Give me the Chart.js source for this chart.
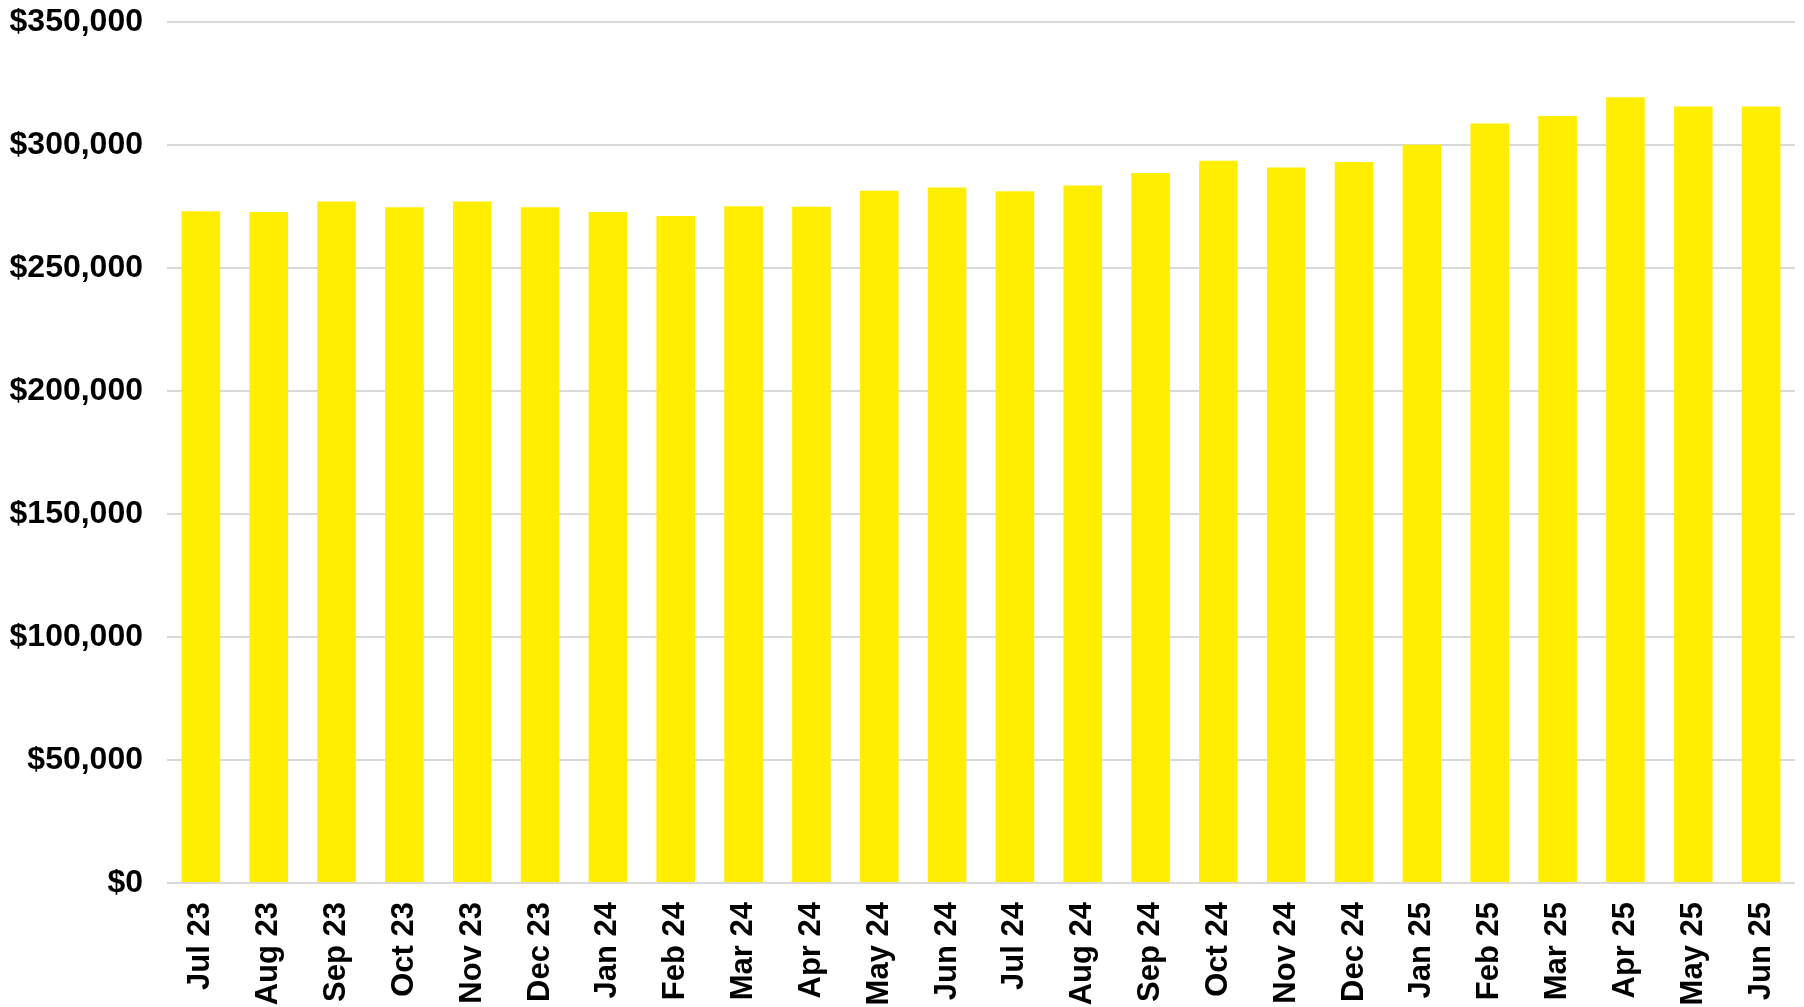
<!DOCTYPE html>
<html>
<head>
<meta charset="utf-8">
<script src="https://cdn.jsdelivr.net/npm/chart.js@4.4.1/dist/chart.umd.min.js"></script>
<style>
  html, body { margin: 0; padding: 0; background: #ffffff; }
  #wrap { width: 1804px; height: 1007px; }
</style>
</head>
<body>
<div id="wrap"><canvas id="c" width="1804" height="1007"></canvas></div>
<script>
const categories = ["Jul 23","Aug 23","Sep 23","Oct 23","Nov 23","Dec 23","Jan 24","Feb 24","Mar 24","Apr 24","May 24","Jun 24","Jul 24","Aug 24","Sep 24","Oct 24","Nov 24","Dec 24","Jan 25","Feb 25","Mar 25","Apr 25","May 25","Jun 25"];
const values = [273100,272800,277000,274700,277000,274700,272800,271100,275100,274900,281400,282700,281200,283500,288600,293600,290900,293100,300100,308700,311800,319400,315700,315700];
const yMin = 0;
const yMax = 350000;
const yStep = 50000;

const fontFamily = '"Liberation Sans", Arial, Helvetica, sans-serif';

new Chart(document.getElementById('c'), {
  type: 'bar',
  data: {
    labels: categories,
    datasets: [{
      data: values,
      backgroundColor: '#FFEE00',
      borderWidth: 0,
      barPercentage: 0.569,
      categoryPercentage: 1.0
    }]
  },
  options: {
    responsive: false,
    devicePixelRatio: 1,
    animation: false,
    layout: { padding: { top: 22, right: 9, bottom: 0, left: 0 } },
    plugins: { legend: { display: false }, tooltip: { enabled: false } },
    scales: {
      x: {
        grid: { display: false, drawTicks: false },
        border: { display: false },
        ticks: {
          maxRotation: 90, minRotation: 90,
          padding: 19,
          color: '#000000',
          font: { family: fontFamily, size: 31, weight: 'bold' }
        },
        afterFit: (s) => { s.height = 124; s.paddingLeft = 0; s.paddingRight = 0; }
      },
      y: {
        min: yMin, max: yMax,
        grid: { color: '#d9d9d9', lineWidth: 2, drawTicks: false },
        border: { display: false },
        ticks: {
          stepSize: yStep,
          padding: 24,
          color: '#000000',
          font: { family: fontFamily, size: 32, weight: 'bold' },
          callback: (v) => '$' + Number(v).toLocaleString('en-US')
        },
        afterFit: (s) => { s.width = 167; s.paddingTop = 0; s.paddingBottom = 0; }
      }
    }
  }
});
</script>
</body>
</html>
